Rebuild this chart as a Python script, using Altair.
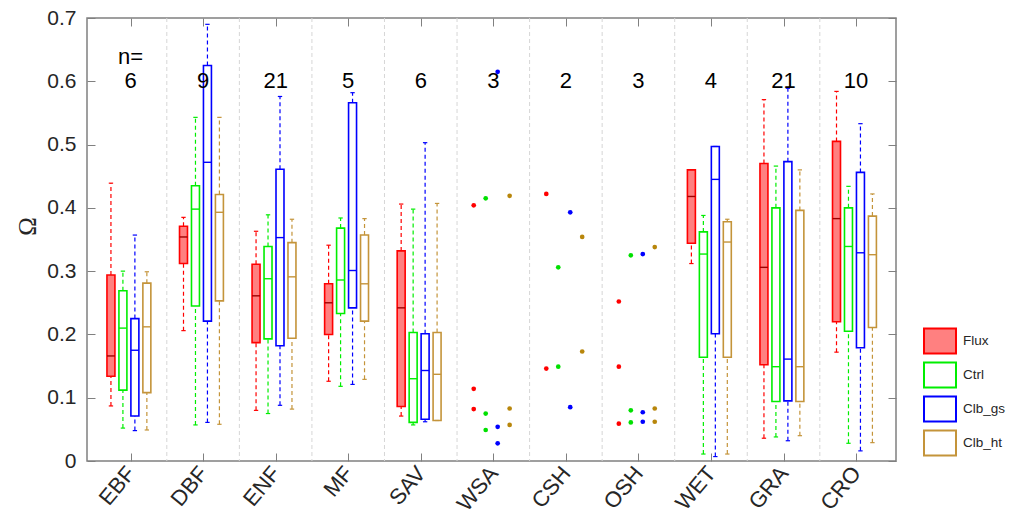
import json
import altair as alt
import pandas as pd

# ---- data -------------------------------------------------------------
categories = ["EBF", "DBF", "ENF", "MF", "SAV", "WSA", "CSH", "OSH", "WET", "GRA", "CRO"]
n_sites = [6, 9, 21, 5, 6, 3, 2, 3, 4, 21, 10]
series = ["Flux", "Ctrl", "Clb_gs", "Clb_ht"]

# categories summarised as box plots (whisker low, q1, median, q3, whisker high)
box_cats = ["EBF", "DBF", "ENF", "MF", "SAV", "WET", "GRA", "CRO"]
flux_stats = [
    (0.087, 0.134, 0.166, 0.294, 0.439),
    (0.206, 0.312, 0.354, 0.371, 0.385),
    (0.080, 0.187, 0.261, 0.311, 0.363),
    (0.126, 0.200, 0.250, 0.280, 0.341),
    (0.071, 0.086, 0.242, 0.332, 0.406),
    (0.312, 0.344, 0.418, 0.460, 0.460),
    (0.036, 0.152, 0.306, 0.470, 0.571),
    (0.172, 0.220, 0.383, 0.505, 0.584),
]
ctrl_stats = [
    (0.052, 0.112, 0.210, 0.269, 0.300),
    (0.057, 0.245, 0.398, 0.435, 0.543),
    (0.075, 0.193, 0.288, 0.339, 0.389),
    (0.118, 0.233, 0.286, 0.368, 0.384),
    (0.057, 0.061, 0.130, 0.203, 0.398),
    (0.011, 0.164, 0.327, 0.362, 0.388),
    (0.038, 0.094, 0.149, 0.400, 0.466),
    (0.028, 0.205, 0.339, 0.400, 0.434),
]
clb_gs_stats = [
    (0.048, 0.071, 0.175, 0.225, 0.357),
    (0.061, 0.221, 0.472, 0.625, 0.690),
    (0.088, 0.182, 0.353, 0.461, 0.576),
    (0.121, 0.242, 0.301, 0.566, 0.582),
    (0.062, 0.066, 0.143, 0.201, 0.503),
    (0.007, 0.201, 0.445, 0.497, 0.497),
    (0.032, 0.095, 0.161, 0.473, 0.589),
    (0.016, 0.179, 0.329, 0.456, 0.533),
]
clb_ht_stats = [
    (0.049, 0.108, 0.212, 0.281, 0.299),
    (0.058, 0.253, 0.393, 0.421, 0.543),
    (0.082, 0.194, 0.291, 0.345, 0.382),
    (0.129, 0.221, 0.280, 0.357, 0.383),
    (0.064, 0.064, 0.137, 0.203, 0.407),
    (0.011, 0.164, 0.346, 0.378, 0.382),
    (0.040, 0.094, 0.149, 0.396, 0.460),
    (0.029, 0.211, 0.326, 0.387, 0.422),
]

# categories with too few sites: individual site values
point_cats = ["WSA", "CSH", "OSH"]
flux_points = [[0.404, 0.114, 0.082], [0.422, 0.146], [0.252, 0.149, 0.059]]
ctrl_points = [[0.415, 0.075, 0.049], [0.306, 0.149], [0.325, 0.080, 0.061]]
clb_gs_points = [[0.615, 0.054, 0.028], [0.393, 0.085], [0.327, 0.077, 0.062]]
clb_ht_points = [[0.419, 0.083, 0.057], [0.354, 0.173], [0.338, 0.083, 0.062]]

y_tick_values = [0, 0.1, 0.2, 0.3, 0.4, 0.5, 0.6, 0.7]

# ---- styling ------------------------------------------------------------
line_colors = ["#ff0000", "#00ee00", "#0000ff", "#c4943a"]
fill_colors = ["#ff8080", "transparent", "transparent", "transparent"]
median_colors = ["#a00000", "#00ee00", "#0000ff", "#c4943a"]
dot_colors = ["#ff0000", "#00e000", "#0000ff", "#b8860b"]
offsets = [-0.27, -0.105, 0.06, 0.225]
half_box = 0.055
half_cap = 0.03
W, H = 809, 443
FONT = "Liberation Sans"
TXT = "#262626"
FRAME = "#808080"
TICK_LEN = 8

stats_by_series = [flux_stats, ctrl_stats, clb_gs_stats, clb_ht_stats]
points_by_series = [flux_points, ctrl_points, clb_gs_points, clb_ht_points]

box_rows = []
for s_i, s in enumerate(series):
    for c_i, cat in enumerate(box_cats):
        lo, q1, med, q3, hi = stats_by_series[s_i][c_i]
        xc = categories.index(cat) + 1 + offsets[s_i]
        box_rows.append(dict(
            series=s, cat=cat, x=xc, xl=xc - half_box, xr=xc + half_box,
            cl=xc - half_cap, cr=xc + half_cap,
            lo=lo, q1=q1, med=med, q3=q3, hi=hi,
            lcol=line_colors[s_i], mcol=median_colors[s_i],
        ))
boxes = pd.DataFrame(box_rows)

pt_rows = []
for s_i, s in enumerate(series):
    for c_i, cat in enumerate(point_cats):
        for v in points_by_series[s_i][c_i]:
            pt_rows.append(dict(series=s, cat=cat,
                                x=categories.index(cat) + 1 + offsets[s_i],
                                v=v, dcol=dot_colors[s_i]))
points = pd.DataFrame(pt_rows)

counts = pd.DataFrame({"i": list(range(1, len(categories) + 1)),
                       "n": [str(n) for n in n_sites]})
seps = pd.DataFrame({"sep": [k + 0.5 for k in range(1, len(categories))]})

xscale = alt.Scale(domain=[0.4, 11.55], nice=False, zero=False)
yscale = alt.Scale(domain=[0, 0.7], nice=False)
cat_positions = list(range(1, len(categories) + 1))

# axes drawn with a negative offset so that their ticks point into the frame
label_list = json.dumps(categories)
tick_common = dict(ticks=True, tickSize=TICK_LEN, tickColor=FRAME, tickWidth=1,
                   offset=-TICK_LEN, domain=False, grid=False, title=None)
x_bottom = alt.Axis(
    orient="bottom", values=cat_positions,
    labelExpr=f"{label_list}[datum.value - 1]",
    labelAngle=-50, labelAlign="right", labelBaseline="middle",
    labelFontSize=22, labelFont=FONT, labelColor=TXT, labelPadding=8,
    labelOverlap=False, labelBound=False, **tick_common,
)
x_top = alt.Axis(orient="top", values=cat_positions, labels=False, **tick_common)
y_left = alt.Axis(
    orient="left", values=y_tick_values,
    labelExpr="datum.value == 0 ? '0' : format(datum.value, '.1f')",
    labelFontSize=21, labelFont=FONT, labelColor=TXT, labelPadding=11,
    ticks=True, tickSize=TICK_LEN, tickColor=FRAME, tickWidth=1,
    offset=-TICK_LEN, domain=False, grid=False,
    title="Ω", titleFont="Liberation Serif", titleFontSize=25,
    titleFontWeight="normal", titleColor=TXT, titleAngle=-90,
    titleX=-68, titleY=208, titleAlign="center", titleBaseline="middle",
)
y_right = alt.Axis(orient="right", values=y_tick_values, labels=False, **tick_common)

# vertical dashed separators between categories
sep_layer = alt.Chart(seps).mark_rule(
    color="#d6d6d6", strokeDash=[4, 3], strokeWidth=1
).encode(x=alt.X("sep:Q", scale=xscale, axis=None))

base = alt.Chart(boxes)
whisk_hi = base.mark_rule(strokeDash=[4, 3], strokeWidth=1.2).encode(
    x=alt.X("x:Q", scale=xscale, axis=None), y=alt.Y("q3:Q", scale=yscale, axis=None),
    y2="hi:Q", stroke=alt.Stroke("lcol:N", scale=None))
whisk_lo = base.mark_rule(strokeDash=[4, 3], strokeWidth=1.2).encode(
    x=alt.X("x:Q", scale=xscale, axis=None), y=alt.Y("lo:Q", scale=yscale, axis=None),
    y2="q1:Q", stroke=alt.Stroke("lcol:N", scale=None))
cap_hi = base.mark_rule(strokeWidth=1.2).encode(
    x=alt.X("cl:Q", scale=xscale, axis=None), x2="cr:Q",
    y=alt.Y("hi:Q", scale=yscale, axis=None),
    stroke=alt.Stroke("lcol:N", scale=None))
cap_lo = base.mark_rule(strokeWidth=1.2).encode(
    x=alt.X("cl:Q", scale=xscale, axis=None), x2="cr:Q",
    y=alt.Y("lo:Q", scale=yscale, axis=None),
    stroke=alt.Stroke("lcol:N", scale=None))

legend = alt.Legend(
    title=None, orient="none", legendX=836, legendY=306,
    symbolType="M-1,-0.78L1,-0.78L1,0.78L-1,0.78Z", symbolSize=1024,
    symbolStrokeWidth=2, symbolOpacity=1,
    labelFont=FONT, labelFontSize=13.5, labelColor=TXT, labelOffset=6,
    rowPadding=-4,
)
box_layer = base.mark_rect(strokeWidth=1.6, opacity=1).encode(
    x=alt.X("xl:Q", scale=xscale, axis=None), x2="xr:Q",
    y=alt.Y("q1:Q", scale=yscale, axis=None), y2="q3:Q",
    fill=alt.Fill("series:N", scale=alt.Scale(domain=series, range=fill_colors),
                  sort=series, legend=legend),
    stroke=alt.Stroke("series:N", scale=alt.Scale(domain=series, range=line_colors),
                      sort=series, legend=legend),
)
median_layer = base.mark_rule(strokeWidth=1.4).encode(
    x=alt.X("xl:Q", scale=xscale, axis=None), x2="xr:Q",
    y=alt.Y("med:Q", scale=yscale, axis=None),
    stroke=alt.Stroke("mcol:N", scale=None))

dots = alt.Chart(points).mark_circle(size=22, opacity=1).encode(
    x=alt.X("x:Q", scale=xscale, axis=None), y=alt.Y("v:Q", scale=yscale, axis=None),
    color=alt.Color("dcol:N", scale=None))

# site counts above each category; this layer also carries the bottom/left axes
count_text = alt.Chart(counts).mark_text(
    font=FONT, fontSize=22, color="#000000", baseline="middle"
).encode(
    x=alt.X("i:Q", scale=xscale, axis=x_bottom),
    y=alt.Y("y:Q", scale=yscale, axis=y_left),
    text="n:N",
).transform_calculate(y="0.6")

# "n=" heading; this layer carries the top/right tick axes
n_label = alt.Chart(pd.DataFrame({"i": [1], "t": ["n="]})).mark_text(
    font=FONT, fontSize=22, color="#000000", baseline="middle"
).encode(
    x=alt.X("i:Q", scale=xscale, axis=x_top),
    y=alt.Y("y:Q", scale=yscale, axis=y_right),
    text="t:N",
).transform_calculate(y="0.638")

chart = alt.layer(
    sep_layer, whisk_hi, whisk_lo, cap_hi, cap_lo, box_layer, median_layer, dots,
    count_text, n_label,
).resolve_axis(
    x="independent", y="independent",
).properties(
    width=W, height=H,
    autosize=alt.AutoSizeParams(type="none"),
    padding={"left": 87, "top": 18, "right": 1012 - 87 - W, "bottom": 527 - 18 - H},
    background="white",
).configure_view(
    stroke=FRAME, strokeWidth=1.5,
)

chart.save("out.html", embed_options={"renderer": "svg", "actions": False})
